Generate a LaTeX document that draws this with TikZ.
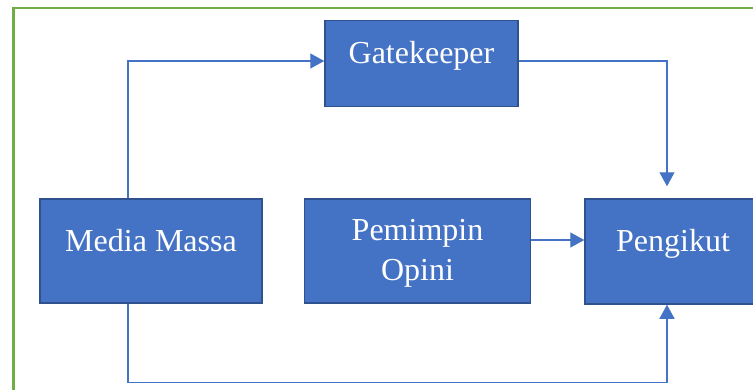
\documentclass[tikz,border=0pt]{standalone}
\usepackage{fontspec}
\setmainfont{Liberation Serif}
\usetikzlibrary{arrows.meta,calc}
\definecolor{boxfill}{HTML}{4472C4}
\definecolor{boxedge}{HTML}{2F528F}
\definecolor{linkblue}{HTML}{4472C4}
\definecolor{framegreen}{HTML}{70AD47}
\tikzset{
  box/.style={draw=boxedge, fill=boxfill, line width=1.5pt, inner sep=0pt, rectangle},
  boxtext/.style={text=white, font=\fontsize{32}{40}\selectfont, anchor=base, inner sep=0pt},
  link/.style={draw=linkblue, line width=1.3pt, -{Triangle[width=15pt,length=14pt]}},
  plainlink/.style={draw=linkblue, line width=1.3pt},
}
\begin{document}
\begin{tikzpicture}[x=1pt,y=-1pt]
\useasboundingbox (0,0) rectangle (753,389);
\clip (0,0) rectangle (753,389);
% outer frame
\draw[framegreen, line width=2.8pt] (13.8,800) -- (13.8,8) -- (900,8);

% boxes
\node[box, minimum width=193pt, minimum height=86pt] (gk) at (421.5,63.3) {};
\node[box, minimum width=222pt, minimum height=104pt] (mm) at (151,251) {};
\node[box, minimum width=226pt, minimum height=104pt] (pp) at (417.5,251) {};
\node[box, minimum width=176pt, minimum height=105pt] (pk) at (673,251.5) {};

% labels
\node[boxtext] (gkt) at (gk.center) {Gatekeeper};
\node[boxtext] (mmt) at (mm.center) {Media Massa};
\node[boxtext] (ppt1) at ($(pp.center)+(0,-10.3)$) {Pemimpin};
\node[boxtext] (ppt2) at ($(pp.center)+(0,29.7)$) {Opini};
\node[boxtext] (pkt) at (pk.center) {Pengikut};

% connector end points
\coordinate (mmtop) at ($(mm.north)+(-23,0)$);
\coordinate (mmbot) at ($(mm.south)+(-23,0)$);
\coordinate (gkin) at ($(gk.west)+(0,-2.3)$);
\coordinate (gkout) at ($(gk.east)+(0,-2.3)$);
\coordinate (pktop) at ($(pk.north)+(-6,-12)$);
\coordinate (pkbot) at ($(pk.south)+(-6,0)$);
\coordinate (ppout) at ($(pp.east)+(0,-11)$);
\coordinate (pkin) at (pk.west |- ppout);

% connectors
\draw[link] (mmtop) |- (gkin);
\draw[link] (gkout) -| (pktop);
\draw[link] (ppout) -- (pkin);
\draw[link] (mmbot) -- ++(0,79) -| (pkbot);
\end{tikzpicture}
\end{document}
